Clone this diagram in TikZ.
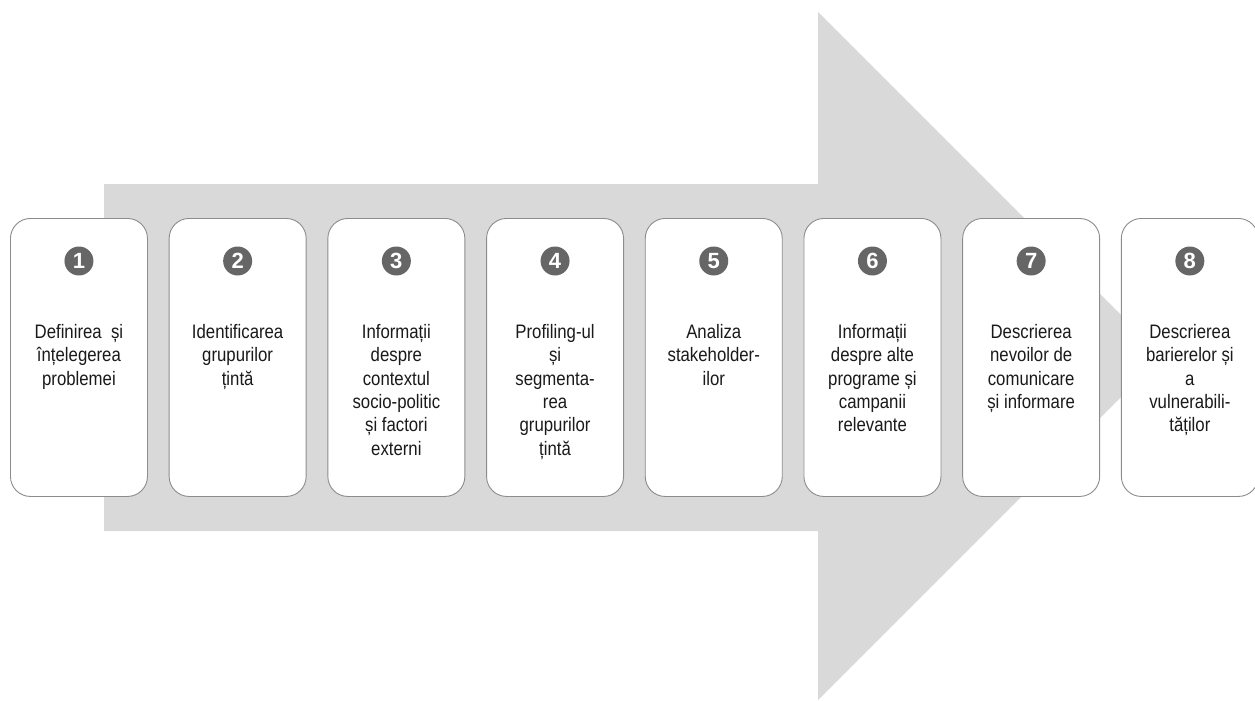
\documentclass[tikz,border=0pt]{standalone}
\usepackage{fontspec}
\usetikzlibrary{calc}
\setmainfont{Liberation Sans}
\newfontfamily\boxfont[FakeStretch=0.86]{Liberation Sans}
\definecolor{arrowgray}{HTML}{D9D9D9}
\definecolor{boxline}{HTML}{8C8C8C}
\definecolor{numgray}{HTML}{666666}
\definecolor{txt}{HTML}{1A1A1A}
\tikzset{
  stepbox/.style={draw=boxline, line width=0.9pt, fill=white, rounded corners=20pt,
    minimum width=137pt, minimum height=278pt, inner sep=0pt, anchor=north west},
  numdot/.style={circle, fill=numgray, minimum size=29pt, inner sep=0pt,
    text=white, font=\fontsize{22}{22}\selectfont\bfseries},
  steptext/.style={align=center, text=txt, inner sep=0pt, anchor=north,
    font=\boxfont\fontsize{19.5}{23.3}\selectfont}
}
\begin{document}
\begin{tikzpicture}[x=1pt,y=-1pt]
\useasboundingbox (0,0) rectangle (1255,701);
\fill[arrowgray] (104,184) -- (818,184) -- (818,12) -- (1162,356) -- (818,700) -- (818,531) -- (104,531) -- cycle;
\foreach \i/\lab in {
  1/{Definirea \ și\\înțelegerea\\problemei},
  2/{Identificarea\\grupurilor\\țintă},
  3/{Informații\\despre\\contextul\\socio-politic\\și factori\\externi},
  4/{Profiling-ul\\și\\segmenta-\\rea\\grupurilor\\țintă},
  5/{Analiza\\stakeholder-\\ilor},
  6/{Informații\\despre alte\\programe și\\campanii\\relevante},
  7/{Descrierea\\nevoilor de\\comunicare\\și informare},
  8/{Descrierea\\barierelor și\\a\\vulnerabili-\\tăților}}{
  \node[stepbox] (b\i) at ({10+158.7*(\i-1)},218) {};
  \node[numdot] (n\i) at ($(b\i.north)+(0,43)$) {\i};
  \node[steptext] (t\i) at ($(b\i.north)+(0,104)$) {\strut\lab};
}
\end{tikzpicture}
\end{document}
